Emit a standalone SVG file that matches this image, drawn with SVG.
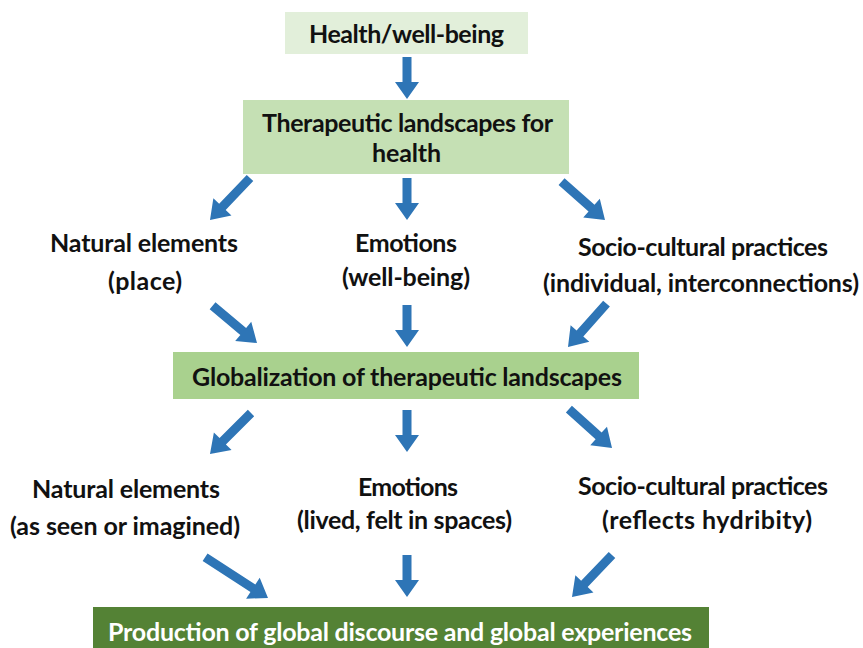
<svg xmlns="http://www.w3.org/2000/svg" xmlns:xlink="http://www.w3.org/1999/xlink" width="863" height="648" viewBox="0 0 863 648">
  <style>
    text { font-family: Lato, "Open Sans", "Liberation Sans", sans-serif; font-weight: 700; font-size: 25px; fill: #111111; text-anchor: middle; }
    .light { fill: #ffffff; }
    .arrow { fill: #2e75b6; }
  </style>
  <defs>
    <!-- block arrows pointing along +x with the tip at the origin -->
    <path id="arrow42" d="M0,0 L-17,-12 L-17,-4.5 L-42,-4.5 L-42,4.5 L-17,4.5 L-17,12 Z"/>
    <path id="arrow58" d="M0,0 L-18,-12.5 L-18,-4.5 L-58,-4.5 L-58,4.5 L-18,4.5 L-18,12.5 Z"/>
    <path id="arrow75" d="M0,0 L-18,-12.5 L-18,-4.5 L-75,-4.5 L-75,4.5 L-18,4.5 L-18,12.5 Z"/>
  </defs>
  <rect width="863" height="648" fill="#ffffff"/>

  <g id="health">
    <rect x="285" y="12" width="243" height="42" fill="#e2efda"/>
    <text x="406.5" y="43" textLength="195">Health/well-being</text>
  </g>

  <g id="therapeutic">
    <rect x="243" y="100" width="326" height="74" fill="#c5e0b4"/>
    <text x="407.5" y="132" textLength="291">Therapeutic landscapes for</text>
    <text x="406.5" y="162" textLength="69">health</text>
  </g>

  <g id="natural-place">
    <text x="144" y="252" textLength="188">Natural elements</text>
    <text x="145" y="290" textLength="74">(place)</text>
  </g>

  <g id="emotions-wellbeing">
    <text x="406" y="252" textLength="102">Emotions</text>
    <text x="406" y="286" textLength="128">(well-being)</text>
  </g>

  <g id="socio-individual">
    <text x="703" y="256" textLength="250">Socio-cultural practices</text>
    <text x="701" y="292" textLength="316">(individual, interconnections)</text>
  </g>

  <g id="globalization">
    <rect x="173" y="352" width="466" height="47" fill="#a9d18e"/>
    <text x="407" y="386" textLength="430">Globalization of therapeutic landscapes</text>
  </g>

  <g id="natural-imagined">
    <text x="126" y="498" textLength="188">Natural elements</text>
    <text x="125" y="535" textLength="230">(as seen or imagined)</text>
  </g>

  <g id="emotions-lived">
    <text x="408" y="496" textLength="100">Emotions</text>
    <text x="404.5" y="529" textLength="215">(lived, felt in spaces)</text>
  </g>

  <g id="socio-hybridity">
    <text x="703" y="495" textLength="250">Socio-cultural practices</text>
    <text x="707" y="529" textLength="210">(reflects hydribity)</text>
  </g>

  <g id="production">
    <rect x="93" y="607" width="616" height="45" fill="#548235"/>
    <text class="light" x="400" y="641" textLength="584">Production of global discourse and global experiences</text>
  </g>

  <g id="connectors" class="arrow">
    <use xlink:href="#arrow42" transform="translate(407,99) rotate(90)"/>
    <use xlink:href="#arrow58" transform="translate(210,220) rotate(133.6)"/>
    <use xlink:href="#arrow42" transform="translate(407,220) rotate(90)"/>
    <use xlink:href="#arrow58" transform="translate(605,220) rotate(41.5)"/>
    <use xlink:href="#arrow58" transform="translate(257,343) rotate(40)"/>
    <use xlink:href="#arrow42" transform="translate(407,347) rotate(90)"/>
    <use xlink:href="#arrow58" transform="translate(568,347) rotate(131.6)"/>
    <use xlink:href="#arrow58" transform="translate(210,454) rotate(135)"/>
    <use xlink:href="#arrow42" transform="translate(407,452) rotate(90)"/>
    <use xlink:href="#arrow58" transform="translate(612,448) rotate(42)"/>
    <use xlink:href="#arrow75" transform="translate(268,598) rotate(33)"/>
    <use xlink:href="#arrow42" transform="translate(407,597) rotate(90)"/>
    <use xlink:href="#arrow58" transform="translate(572,597) rotate(133.6)"/>
  </g>
</svg>
